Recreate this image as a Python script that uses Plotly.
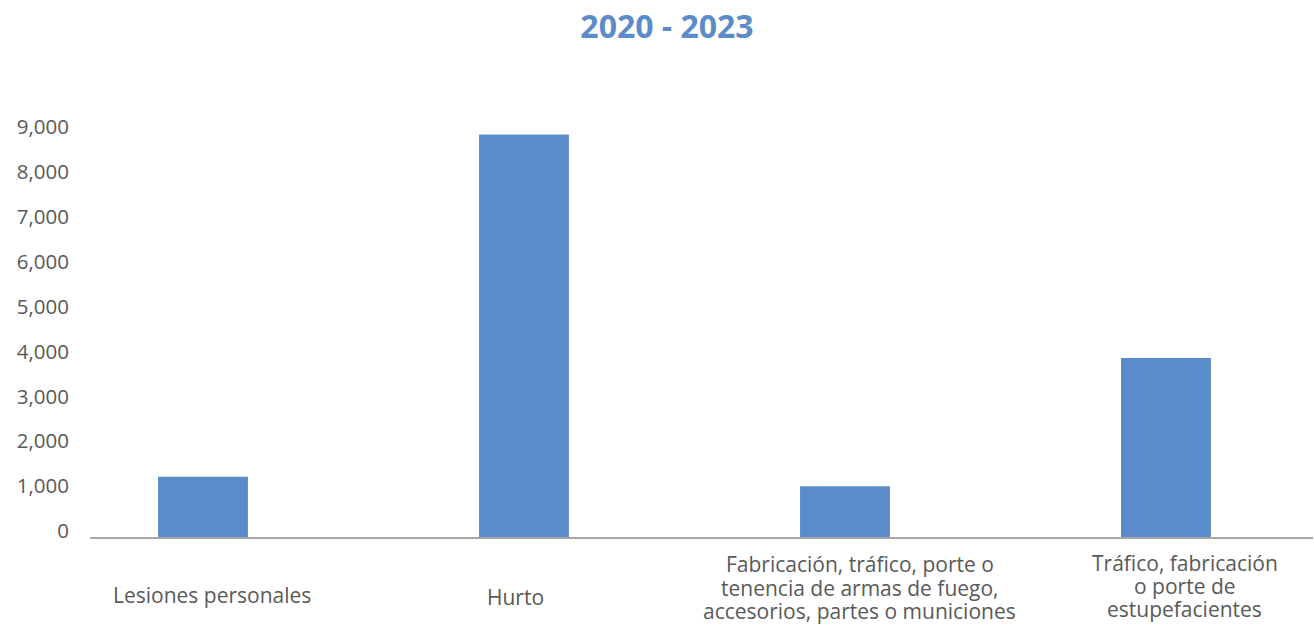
import plotly.graph_objects as go

# Categories and totals for 2020 - 2023
categories = [
    "Lesiones personales",
    "Hurto",
    "Fabricación, tráfico, porte o<br>tenencia de armas de fuego,<br>accesorios, partes o municiones",
    "Tráfico, fabricación<br>o porte de<br>estupefacientes",
]
values = [1344, 8967, 1129, 3989]
y_ticks = [0, 1000, 2000, 3000, 4000, 5000, 6000, 7000, 8000, 9000]

BAR_COLOR = "#5B8BC9"
TEXT_COLOR = "#595959"
FONT = "Open Sans"

W, H = 1314, 625
plot_left, plot_right = 90, 1313
plot_top, plot_bottom = 132.5, 537.5
LINE_STEP = 23.3

x_pos = list(range(len(categories)))

fig = go.Figure(
    go.Bar(
        x=x_pos,
        y=values,
        width=0.28,
        marker=dict(color=BAR_COLOR, line=dict(width=0)),
        hoverinfo="skip",
    )
)

# Category labels under each bar, one annotation per line for tight spacing
label_xshift = [9, -8, 15, 19]
label_ycenter = [595, 597, 588, 586.5]
for xi, text, dx, yc in zip(x_pos, categories, label_xshift, label_ycenter):
    lines = text.split("<br>")
    n = len(lines)
    for k, line in enumerate(lines):
        y_line = yc + (k - (n - 1) / 2) * LINE_STEP
        fig.add_annotation(
            x=xi, xref="x",
            y=0, yref="paper",
            yshift=-(y_line - plot_bottom),
            xshift=dx,
            text=line,
            showarrow=False,
            xanchor="center", yanchor="middle",
            align="center",
            font=dict(family=FONT, size=21, color=TEXT_COLOR),
        )

fig.update_layout(
    width=W, height=H,
    margin=dict(l=plot_left, r=W - plot_right, t=plot_top, b=H - plot_bottom, pad=0),
    paper_bgcolor="white",
    plot_bgcolor="white",
    showlegend=False,
    title=dict(
        text="<b>2020 - 2023</b>",
        x=667 / W, xref="container", xanchor="center",
        y=1 - 27 / H, yref="container", yanchor="middle",
        font=dict(family=FONT, size=32, color=BAR_COLOR),
    ),
    font=dict(family=FONT, color=TEXT_COLOR),
)

fig.update_xaxes(
    range=[-0.352, 3.458],
    showticklabels=False,
    showgrid=False,
    zeroline=False,
    showline=True,
    linecolor="#A6A6A6",
    linewidth=2,
    ticks="",
)

fig.update_yaxes(
    range=[0, 9000],
    tickvals=y_ticks,
    tickformat=",d",
    showgrid=False,
    zeroline=False,
    showline=False,
    ticks="",
    ticklabelstandoff=20,
    ticklabelshift=-6,
    tickfont=dict(family=FONT, size=20.5, color=TEXT_COLOR),
)

fig.write_html("out.html")
